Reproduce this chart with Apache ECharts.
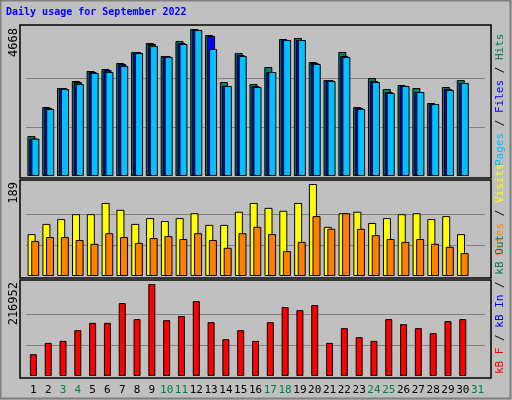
<!DOCTYPE html>
<html>
<head>
<meta charset="utf-8">
<title>Daily usage for September 2022</title>
<script src="https://cdn.jsdelivr.net/npm/echarts@6/dist/echarts.min.js"></script>
<style>
  html, body { margin:0; padding:0; background:#c0c0c0; }
  #chart { width:512px; height:400px; }
</style>
</head>
<body>
<div id="chart"></div>
<script>
var days = [];
for (var i = 1; i <= 31; i++) days.push(String(i));
var weekends = ['3','4','10','11','17','18','24','25','31'];

// daily values (day 31 empty)
var hits  = [1270,2191,2794,3017,3334,3398,3588,3938,4223,3811,4287,4668,4477,2985,3906,2921,3461,4350,4382,3620,3048,3938,2191,3112,2763,2890,2794,2318,2826,3048];
var files = [1186,2159,2794,2985,3302,3366,3557,3938,4192,3811,4223,4636,4446,2858,3842,2858,3302,4319,4319,3588,3048,3811,2159,3017,2667,2858,2667,2286,2763,2953];
var pages = [1186,2128,2763,2921,3271,3302,3493,3906,4128,3779,4192,4636,4033,2858,3811,2826,3302,4319,4319,3557,3017,3779,2128,2985,2636,2858,2667,2286,2731,2953];
var visits = [86,107,117,127,127,150,136,107,119,113,119,129,105,105,132,150,140,134,150,189,101,129,132,109,119,127,129,117,123,86];
var sites  = [72,80,80,74,66,88,80,68,78,82,76,88,74,58,88,101,86,51,70,123,97,129,97,84,76,70,76,66,60,47];
var kbytes = [51300,78100,82800,108100,125400,125400,172000,134100,216952,131800,141200,176700,127000,86800,108100,82800,127000,162500,155400,167300,78100,112800,91500,82800,134100,122300,112800,101000,129400,134100];

var maxHits = 4668, maxVisits = 189, maxKB = 216952;
var mono = 'DejaVu Sans Mono';
var gridColors = ['transparent', '#808080', '#808080', 'transparent'];

function xAxis(idx, showLabels){
  return {
    type: 'category', gridIndex: idx, data: days,
    axisLine: {show: false}, axisTick: {show: false},
    axisLabel: {
      show: showLabels, interval: 0, margin: 9, fontFamily: mono, fontSize: 11,
      formatter: function(v){ return weekends.indexOf(v) >= 0 ? '{w|' + v + '}' : '{n|' + v + '}'; },
      rich: { n: {color: '#000', fontFamily: mono, fontSize: 11}, w: {color: '#008040', fontFamily: mono, fontSize: 11} }
    }
  };
}
function yAxis(idx, max){
  return {
    type: 'value', gridIndex: idx, min: 0, max: max, interval: max / 3,
    axisLabel: {show: false}, axisLine: {show: false}, axisTick: {show: false},
    splitLine: {lineStyle: {color: gridColors, width: 1}}
  };
}
function bars(name, data, color, idx, width, gap){
  return {
    name: name, type: 'bar', xAxisIndex: idx, yAxisIndex: idx, data: data,
    barWidth: width, barGap: gap, silent: true,
    itemStyle: {color: color, borderColor: '#000', borderWidth: 1}
  };
}
function panel(y, h){
  return {type: 'rect', shape: {x: 20, y: y, width: 471, height: h},
    style: {fill: 'none', stroke: '#000', lineWidth: 1.5}, z: 100};
}
function maxText(y, text){
  return {type: 'text', x: 14, y: y, rotation: Math.PI / 2,
    style: {text: text, align: 'right', verticalAlign: 'middle', font: '12px ' + mono, fill: '#000'}};
}
function sideText(y, text, rich){
  return {type: 'text', x: 500, y: y, rotation: Math.PI / 2, z: 100,
    style: {text: text, rich: rich, align: 'left', verticalAlign: 'middle', font: '11px ' + mono}};
}
function part(color){ return {fill: color, font: '11px ' + mono}; }

var chart = echarts.init(document.getElementById('chart'));
chart.setOption({
  animation: false,
  backgroundColor: '#c0c0c0',
  grid: [
    {left: 26, right: 27, top: 29, height: 147},
    {left: 26, right: 27, top: 184, height: 92},
    {left: 26, right: 27, top: 284, height: 92}
  ],
  xAxis: [xAxis(0, false), xAxis(1, false), xAxis(2, true)],
  yAxis: [yAxis(0, maxHits), yAxis(1, maxVisits), yAxis(2, maxKB)],
  series: [
    bars('Hits', hits, '#008060', 0, 8, '-75%'),
    bars('Files', files, '#0000ff', 0, 8, '-75%'),
    bars('Pages', pages, '#00c0ff', 0, 8, '-75%'),
    bars('Visits', visits, '#ffff00', 1, 8, '-55%'),
    bars('Sites', sites, '#ff8000', 1, 8, '-55%'),
    bars('kB F', kbytes, '#ff0000', 2, 7, '0%')
  ],
  graphic: [
    {type: 'rect', shape: {x: 0.5, y: 0.5, width: 510, height: 398},
      style: {fill: 'none', stroke: '#808080', lineWidth: 2}},
    {type: 'text', x: 6, y: 7, style: {text: 'Daily usage for September 2022', fill: '#0000ff', font: 'bold 10px ' + mono}},
    panel(25, 153), {type: 'line', shape: {x1: 20, y1: 179, x2: 491, y2: 179}, style: {stroke: '#fff', lineWidth: 1}},
    panel(180, 98), {type: 'line', shape: {x1: 20, y1: 279, x2: 491, y2: 279}, style: {stroke: '#fff', lineWidth: 1}},
    panel(280, 98),
    maxText(28, '4668'),
    maxText(182, '189'),
    maxText(282, '216952'),
    sideText(166, '{p|Pages}{s| / }{f|Files}{s| / }{h|Hits}',
      {p: part('#00c0ff'), f: part('#0000ff'), h: part('#008060'), s: part('#000')}),
    sideText(256, '{t|Sites}{s| / }{v|Visits}',
      {v: part('#ffff00'), t: part('#ff8000'), s: part('#000')}),
    sideText(374, '{r|kB F}{s| / }{b|kB In}{s| / }{g|kB Out}',
      {r: part('#ff0000'), b: part('#0000ff'), g: part('#008060'), s: part('#000')})
  ]
});
</script>
</body>
</html>
